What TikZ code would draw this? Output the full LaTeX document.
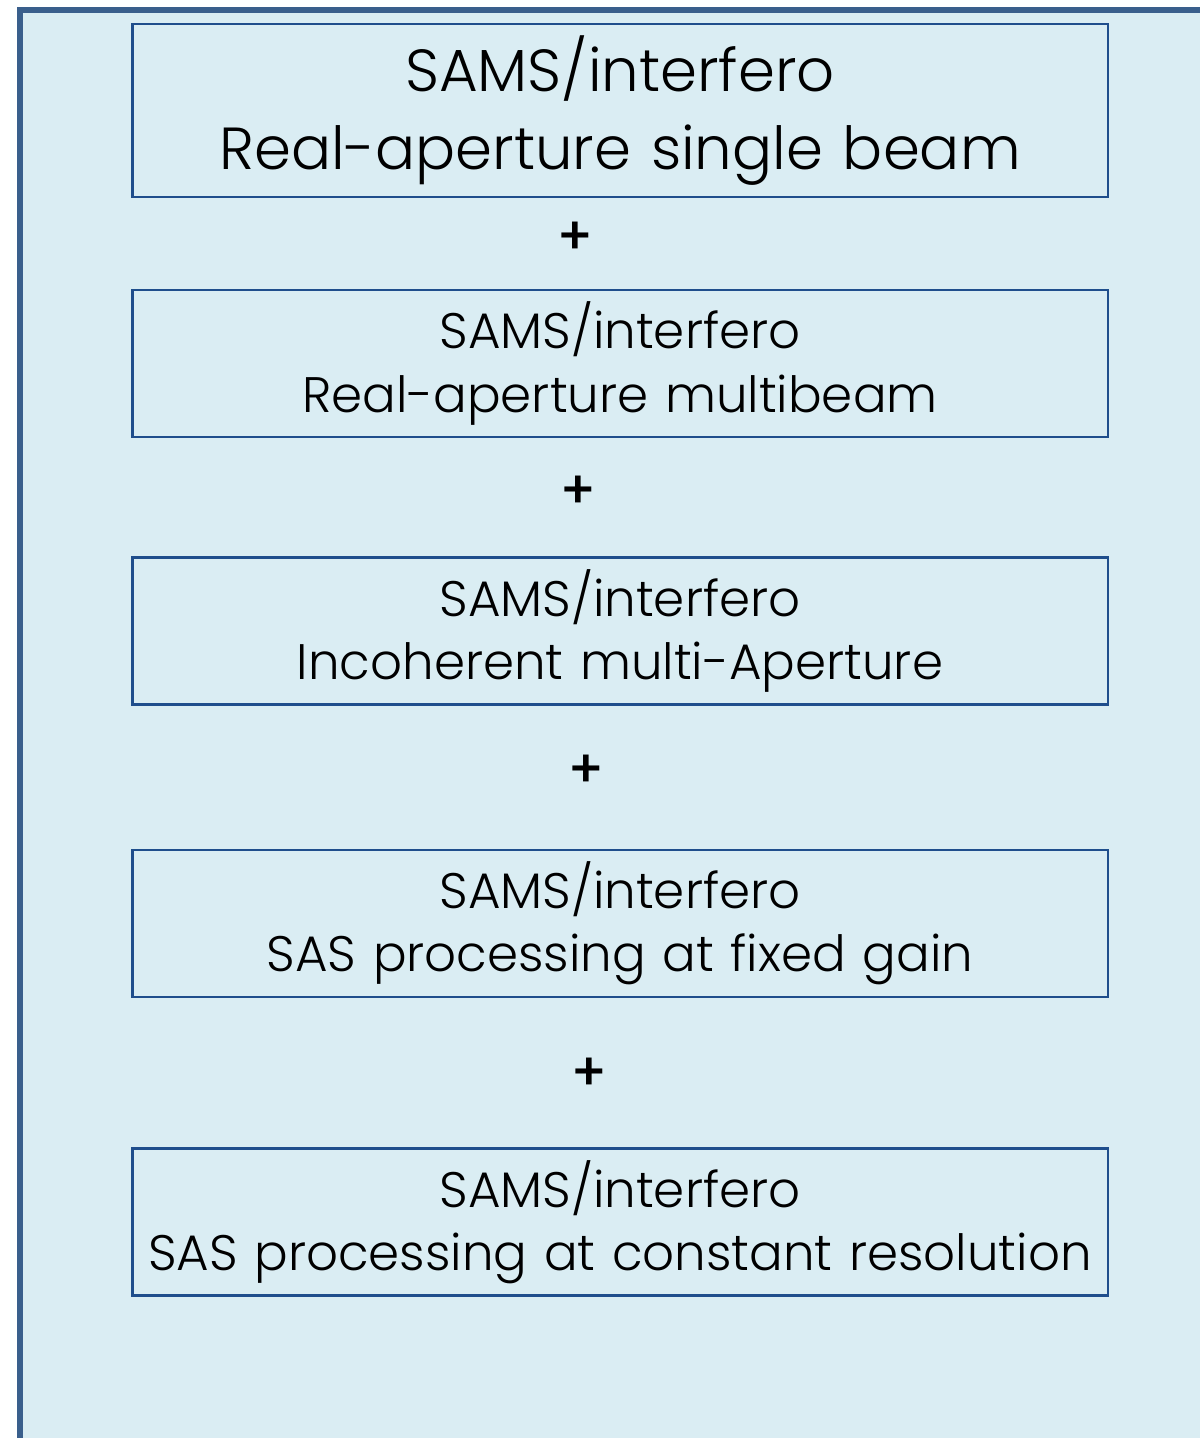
\documentclass[tikz,border=0pt]{standalone}
\usepackage{fontspec}
\setmainfont{Poppins}[UprightFont={* Light}, BoldFont={* Medium}]
\usepackage{xcolor}
\usepackage{tikz}
\usetikzlibrary{positioning}

\definecolor{panelfill}{HTML}{DAEDF3}
\definecolor{paneledge}{HTML}{3A5F8C}
\definecolor{boxedge}{HTML}{1F4E8C}

\tikzset{
  sams/.style={draw=boxedge, line width=1.6pt, align=center, minimum width=19.52cm, text width=19.2cm, inner sep=0pt},
  samsbig/.style={sams, minimum height=3.46cm, font=\fontsize{33.8}{44.4}\selectfont},
  samssmall/.style={sams, minimum height=2.94cm, font=\fontsize{28.4}{35.9}\selectfont},
  plus/.style={font=\fontsize{30}{30}\selectfont\bfseries, inner sep=0pt}
}

\begin{document}
\begin{tikzpicture}[x=0.02cm, y=-0.02cm]

  \useasboundingbox (0,0) rectangle (1200,1438);

  % Panneau
  \fill[panelfill] (20,10) rectangle (1210,1450);
  \draw[paneledge, line width=3.6pt] (20,1450) -- (20,10) -- (1210,10);

  % Boites
  \node[samsbig]   (b1) at (620,110.5) {SAMS/interfero\\Real-aperture single beam};
  \node[samssmall] (b2) at (620,363.5) {SAMS/interfero\\Real-aperture multibeam};
  \node[samssmall] (b3) at (620,631)   {SAMS/interfero\\Incoherent multi-Aperture};
  \node[samssmall] (b4) at (620,923.5) {SAMS/interfero\\SAS processing at fixed gain};
  \node[samssmall] (b5) at (620,1222)  {SAMS/interfero\\SAS processing at constant resolution};

  % Signes plus
  \node[plus] (p1) at (575,238)  {+};
  \node[plus] (p2) at (578,492)  {+};
  \node[plus] (p3) at (586,771)  {+};
  \node[plus] (p4) at (589,1074) {+};

\end{tikzpicture}
\end{document}
